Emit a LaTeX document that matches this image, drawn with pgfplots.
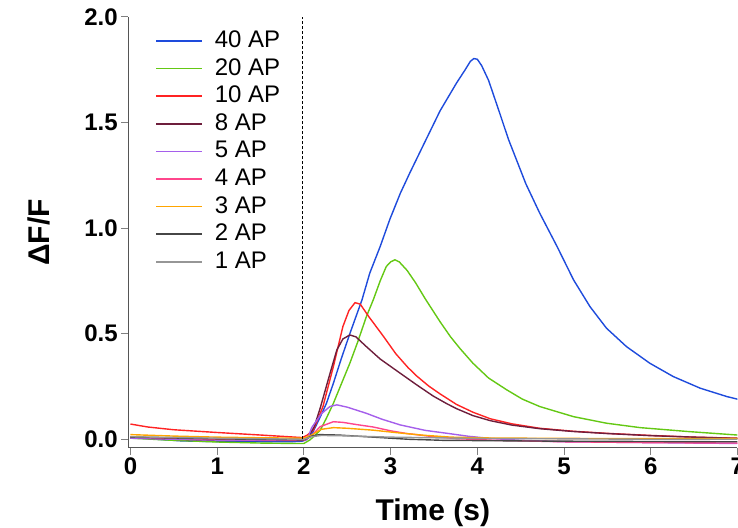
\documentclass[border=0pt]{standalone}
\usepackage{pgfplots}
\pgfplotsset{compat=1.18}
\usepackage{fontspec}
\setmainfont{Liberation Sans}

\definecolor{c40}{RGB}{30,75,220}
\definecolor{c20}{RGB}{100,200,20}
\definecolor{c10}{RGB}{255,35,35}
\definecolor{c8}{RGB}{110,30,60}
\definecolor{c5}{RGB}{165,95,235}
\definecolor{c4}{RGB}{255,70,140}
\definecolor{c3}{RGB}{255,165,0}
\definecolor{c2}{RGB}{70,70,70}
\definecolor{c1}{RGB}{150,150,150}
\definecolor{axgray}{RGB}{85,85,85}

\begin{document}
\begin{tikzpicture}
\useasboundingbox (0,0) rectangle (738pt,527pt);
\begin{axis}[
  at={(128.3pt,79.3pt)}, anchor=south west,
  scale only axis, width=609.1pt, height=430.7pt,
  xmin=-0.025, xmax=7, ymin=-0.04, ymax=2.0,
  axis x line*=bottom, axis y line*=left,
  axis line style={-, draw=axgray, line width=1pt},
  tick align=outside, major tick length=7pt,
  every tick/.style={draw=gray, line width=1pt},
  xtick={0,1,2,3,4,5,6,7}, xticklabels={0,1,2,3,4,5,6,7},
  ytick={0,0.5,1,1.5,2}, yticklabels={0.0,0.5,1.0,1.5,2.0},
  ticklabel style={font=\fontsize{24}{24}\selectfont\bfseries},
  xlabel={Time (s)}, ylabel={ΔF/F},
  label style={font=\fontsize{30}{30}\selectfont\bfseries},
  xlabel style={yshift=-17pt},
  ylabel style={yshift=27pt},
  legend cell align=left,
  legend image code/.code={\draw[#1,line width=1.6pt] (0pt,0pt) -- (46pt,0pt);},
  legend style={at={(axis description cs:0.044,0.977)}, anchor=north west,
    draw=none, fill=none, inner sep=0pt, row sep=0pt,
    font=\fontsize{24}{27.6}\selectfont,
    nodes={inner xsep=0pt, inner ysep=3.3pt, text height=17pt, text depth=4pt},
    /tikz/every odd column/.append style={column sep=12pt}},
  every axis plot/.append style={line width=1.4pt, no markers},
]
% 40 AP
\addplot[c40] coordinates {
(0,0.008)(0.3,0)(0.6,-0.008)(1,-0.011)(1.5,-0.012)(1.9,-0.011)(1.98,-0.009)(2.03,-0.002)(2.1,0.03)(2.19,0.107)(2.26,0.17)(2.34,0.265)(2.43,0.38)(2.53,0.5)(2.6,0.58)(2.67,0.66)(2.76,0.787)(2.88,0.913)(2.99,1.04)(3.11,1.163)(3.22,1.26)(3.38,1.395)(3.57,1.555)(3.76,1.687)(3.86,1.75)(3.92,1.79)(3.96,1.803)(4,1.8)(4.05,1.77)(4.13,1.7)(4.25,1.555)(4.36,1.42)(4.56,1.21)(4.72,1.071)(4.92,0.913)(5.11,0.755)(5.3,0.628)(5.49,0.526)(5.72,0.439)(5.99,0.36)(6.26,0.297)(6.57,0.242)(6.88,0.202)(7,0.19)};
\addlegendentry{40 AP}
% 20 AP
\addplot[c20] coordinates {
(0,0.005)(0.5,-0.005)(1,-0.013)(1.5,-0.018)(1.9,-0.02)(2,-0.02)(2.07,-0.003)(2.12,0.015)(2.19,0.044)(2.26,0.1)(2.34,0.17)(2.43,0.26)(2.53,0.36)(2.62,0.46)(2.72,0.58)(2.8,0.66)(2.88,0.75)(2.95,0.818)(3,0.84)(3.05,0.85)(3.1,0.84)(3.19,0.8)(3.29,0.74)(3.4,0.665)(3.57,0.557)(3.69,0.486)(3.8,0.43)(3.95,0.36)(4.13,0.29)(4.34,0.234)(4.52,0.19)(4.72,0.155)(5.11,0.107)(5.49,0.076)(5.88,0.055)(6.45,0.036)(7,0.02)};
\addlegendentry{20 AP}
% 10 AP
\addplot[c10] coordinates {
(0,0.072)(0.2,0.058)(0.5,0.045)(1,0.032)(1.5,0.02)(1.9,0.01)(1.98,0.008)(2.04,0.02)(2.11,0.044)(2.22,0.155)(2.34,0.344)(2.45,0.534)(2.52,0.61)(2.59,0.647)(2.65,0.64)(2.75,0.58)(2.92,0.486)(3.06,0.405)(3.2,0.34)(3.3,0.3)(3.44,0.252)(3.57,0.215)(3.76,0.165)(3.95,0.128)(4.15,0.097)(4.4,0.073)(4.72,0.052)(5.1,0.038)(5.49,0.028)(6,0.018)(6.5,0.01)(7,0.005)};
\addlegendentry{10 AP}
% 8 AP
\addplot[c8] coordinates {
(0,0.008)(0.5,0)(1,-0.005)(1.5,-0.006)(1.98,-0.005)(2.05,0.01)(2.12,0.06)(2.19,0.15)(2.3,0.31)(2.38,0.423)(2.45,0.475)(2.53,0.494)(2.6,0.485)(2.72,0.439)(2.88,0.38)(3.11,0.313)(3.3,0.258)(3.49,0.205)(3.65,0.168)(3.76,0.145)(3.95,0.112)(4.15,0.088)(4.4,0.067)(4.72,0.05)(5.1,0.037)(5.5,0.027)(6,0.017)(6.5,0.01)(7,0.004)};
\addlegendentry{8 AP}
% 5 AP
\addplot[c5] coordinates {
(0,0.005)(0.5,0)(1,-0.004)(1.5,-0.005)(2,-0.005)(2.04,0)(2.09,0.055)(2.2,0.12)(2.3,0.155)(2.38,0.163)(2.5,0.152)(2.72,0.123)(2.9,0.095)(3.11,0.068)(3.4,0.042)(3.69,0.026)(3.9,0.014)(4.15,0.004)(4.5,-0.005)(5,-0.012)(6,-0.016)(7,-0.02)};
\addlegendentry{5 AP}
% 4 AP
\addplot[c4] coordinates {
(0,0.01)(1,0)(2,-0.005)(2.07,0.01)(2.19,0.06)(2.34,0.083)(2.45,0.08)(2.6,0.07)(2.8,0.058)(3,0.04)(3.19,0.027)(3.5,0.012)(3.76,0.003)(4.2,-0.005)(5,-0.012)(6,-0.016)(7,-0.018)};
\addlegendentry{4 AP}
% 3 AP
\addplot[c3] coordinates {
(0,0.022)(0.5,0.015)(1,0.01)(1.5,0.007)(2,0.005)(2.09,0.02)(2.2,0.047)(2.34,0.055)(2.5,0.052)(2.8,0.043)(3.1,0.03)(3.38,0.019)(3.7,0.01)(4.15,0.006)(5,0.004)(6,0.003)(7,0.003)};
\addlegendentry{3 AP}
% 2 AP
\addplot[c2] coordinates {
(0,0.01)(1,0.002)(2,-0.003)(2.09,0.015)(2.18,0.022)(2.4,0.02)(2.8,0.01)(3.2,0)(3.6,-0.005)(4.5,-0.008)(5.5,-0.01)(7,-0.012)};
\addlegendentry{2 AP}
% 1 AP
\addplot[c1] coordinates {
(0,0.012)(1,0.005)(2,0)(2.09,0.012)(2.2,0.018)(2.5,0.016)(3,0.01)(4,0.004)(5,0.002)(6,0)(7,0)};
\addlegendentry{1 AP}
% stimulus onset
\addplot[black, line width=1.1pt, dash pattern=on 3pt off 2pt, forget plot] coordinates {(1.98,0)(1.98,2)};
\end{axis}
\end{tikzpicture}
\end{document}
